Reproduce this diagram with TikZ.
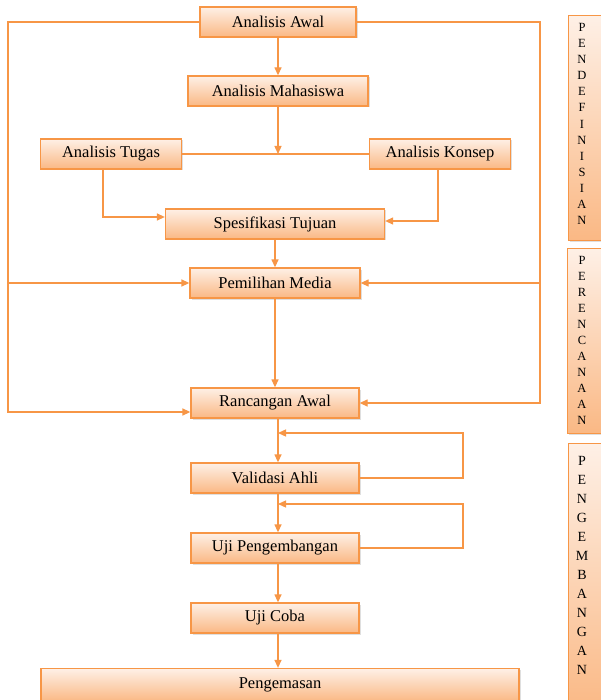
\documentclass[tikz,border=0pt]{standalone}
\usepackage{fontspec}
\setmainfont{Liberation Serif}
\usetikzlibrary{arrows.meta,shadows}
\definecolor{oline}{HTML}{F79646}
\definecolor{olight}{HTML}{FEF0E6}
\definecolor{odark}{HTML}{FAB884}
\tikzset{
  box/.style={draw=oline, line width=1.3pt, top color=olight, bottom color=odark,
    minimum height=30, inner sep=0pt, font=\fontsize{16.5}{18}\selectfont,
    drop shadow={shadow xshift=1.5pt, shadow yshift=-1.5pt, opacity=0.25}},
  sidebox/.style={draw=oline, line width=1.3pt, top color=olight, bottom color=odark,
    inner sep=0pt, anchor=north west,
    drop shadow={shadow xshift=1.5pt, shadow yshift=-1.5pt, opacity=0.25}},
  letters/.style={align=center, inner sep=0pt},
  conn/.style={draw=oline, line width=1.3pt},
  arr/.style={conn, -{Triangle[length=8pt,width=7pt]}}
}
\begin{document}
\begin{tikzpicture}[x=1pt,y=-1pt]
\useasboundingbox (0,0) rectangle (601,700);
\clip (0,0) rectangle (601,700);
\fill[white] (0,0) rectangle (601,700);
% main boxes
\node[box, minimum width=156] (aw) at (278,22) {Analisis Awal};
\node[box, minimum width=180] (mh) at (278,91) {Analisis Mahasiswa};
\node[box, minimum width=141] (tg) at (111,154) {Analisis Tugas};
\node[box, minimum width=141] (kp) at (440,154) {Analisis Konsep};
\node[box, minimum width=219] (sp) at (275,224) {Spesifikasi Tujuan};
\node[box, minimum width=170] (pm) at (275,283) {Pemilihan Media};
\node[box, minimum width=168] (ra) at (275,403) {Rancangan Awal};
\node[box, minimum width=168] (va) at (275,478) {Validasi Ahli};
\node[box, minimum width=168] (up) at (275,548) {Uji Pengembangan};
\node[box, minimum width=168] (uc) at (275,618) {Uji Coba};
\node[box, minimum width=478, minimum height=33] (pg) at (280,685) {Pengemasan};
% side boxes
\node[sidebox, minimum width=45, minimum height=225] (s1) at (568,15) {};
\node[letters, font=\fontsize{12.5}{16.1}\selectfont] (l1) at (582,124) {P\\E\\N\\D\\E\\F\\I\\N\\I\\S\\I\\A\\N};
\node[sidebox, minimum width=45, minimum height=185] (s2) at (567,248) {};
\node[letters, font=\fontsize{12.5}{16}\selectfont] (l2) at (582,340) {P\\E\\R\\E\\N\\C\\A\\N\\A\\A\\N};
\node[sidebox, minimum width=45, minimum height=270] (s3) at (568,443) {};
\node[letters, font=\fontsize{14}{19}\selectfont] (l3) at (582,565) {P\\E\\N\\G\\E\\M\\B\\A\\N\\G\\A\\N};
% connectors
\coordinate (j1) at (278,154);
\draw[arr] (aw.south) -- (mh.north);
\draw[arr] (mh.south) -- (j1);
\draw[conn] (tg.east) -- (kp.west);
\draw[arr] ([xshift=-8pt]tg.south) |- ([yshift=7pt]sp.west);
\draw[arr] ([xshift=-2pt]kp.south) |- ([yshift=3pt]sp.east);
\draw[arr] (sp.south) -- (pm.north);
\draw[arr] (pm.south) -- (ra.north);
% outer loops
\coordinate (Ltop) at (8,22);
\coordinate (Lbot) at (8,412);
\coordinate (Rtop) at (540,22);
\coordinate (Rbot) at (540,403);
\draw[arr] (aw.west) -- (Ltop) -- (Lbot) -- (Lbot -| ra.west);
\draw[arr] (Ltop |- pm.west) -- (pm.west);
\draw[arr] (aw.east) -- (Rtop) -- (Rbot) -- (ra.east);
\draw[arr] (Rtop |- pm.east) -- (pm.east);
% lower chain
\coordinate (v1) at (463,478);
\coordinate (v2) at (463,433);
\coordinate (v3) at (278,433);
\coordinate (u1) at (463,548);
\coordinate (u2) at (463,504);
\coordinate (u3) at (278,504);
\draw[arr] ([xshift=3pt]ra.south) -- ([xshift=3pt]va.north);
\draw[arr] (va.east) -- (v1) -- (v2) -- (v3);
\draw[arr] ([xshift=3pt]va.south) -- ([xshift=3pt]up.north);
\draw[arr] (up.east) -- (u1) -- (u2) -- (u3);
\draw[arr] ([xshift=3pt]up.south) -- ([xshift=3pt]uc.north);
\draw[arr] ([xshift=3pt]uc.south) -- (pg.north -| 278,0);
\end{tikzpicture}
\end{document}
